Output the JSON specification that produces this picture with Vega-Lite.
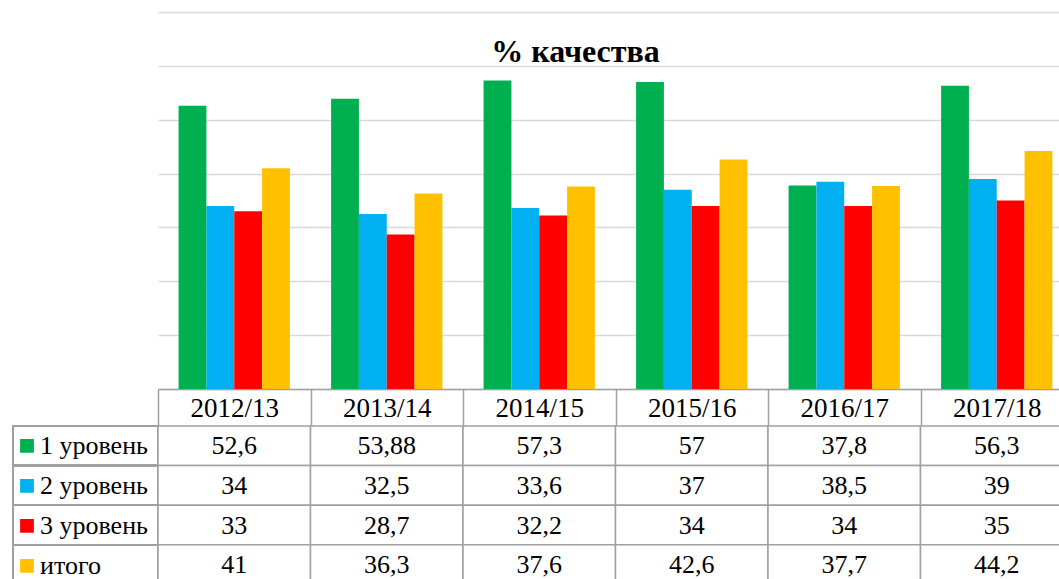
{
  "$schema": "https://vega.github.io/schema/vega-lite/v6.json",
  "padding": {"left": 12, "top": 12, "right": 0, "bottom": 0},
  "background": "white",
  "datasets": {
    "q": [
      {"year": "2012/13", "series": "1 уровень", "value": 52.6},
      {"year": "2012/13", "series": "2 уровень", "value": 34},
      {"year": "2012/13", "series": "3 уровень", "value": 33},
      {"year": "2012/13", "series": "итого", "value": 41},
      {"year": "2013/14", "series": "1 уровень", "value": 53.88},
      {"year": "2013/14", "series": "2 уровень", "value": 32.5},
      {"year": "2013/14", "series": "3 уровень", "value": 28.7},
      {"year": "2013/14", "series": "итого", "value": 36.3},
      {"year": "2014/15", "series": "1 уровень", "value": 57.3},
      {"year": "2014/15", "series": "2 уровень", "value": 33.6},
      {"year": "2014/15", "series": "3 уровень", "value": 32.2},
      {"year": "2014/15", "series": "итого", "value": 37.6},
      {"year": "2015/16", "series": "1 уровень", "value": 57},
      {"year": "2015/16", "series": "2 уровень", "value": 37},
      {"year": "2015/16", "series": "3 уровень", "value": 34},
      {"year": "2015/16", "series": "итого", "value": 42.6},
      {"year": "2016/17", "series": "1 уровень", "value": 37.8},
      {"year": "2016/17", "series": "2 уровень", "value": 38.5},
      {"year": "2016/17", "series": "3 уровень", "value": 34},
      {"year": "2016/17", "series": "итого", "value": 37.7},
      {"year": "2017/18", "series": "1 уровень", "value": 56.3},
      {"year": "2017/18", "series": "2 уровень", "value": 39},
      {"year": "2017/18", "series": "3 уровень", "value": 35},
      {"year": "2017/18", "series": "итого", "value": 44.2}
    ]
  },
  "columns": 2,
  "spacing": {"row": 37, "column": 0},
  "bounds": "flush",
  "align": "each",
  "config": {"view": {"stroke": null}, "font": "Liberation Serif"},
  "concat": [
    {
      "width": 145,
      "height": 377,
      "data": {"values": [{}]},
      "mark": {"type": "text"},
      "encoding": {"text": {"value": ""}}
    },
    {
      "width": 915,
      "height": 377,
      "data": {"name": "q"},
      "title": {"text": "% качества", "font": "Liberation Serif", "fontSize": 32, "fontWeight": "bold", "color": "black", "anchor": "middle", "offset": -82, "baseline": "alphabetic", "dx": -40},
      "mark": {"type": "bar"},
      "encoding": {
        "x": {
          "field": "year", "type": "nominal", "sort": null,
          "scale": {"paddingInner": 0, "paddingOuter": 0},
          "axis": {"title": null, "labelAngle": 0, "labelFont": "Liberation Serif", "labelFontSize": 27, "labelColor": "black", "labelBaseline": "alphabetic", "labelPadding": -10, "ticks": true, "tickBand": "extent", "tickSize": 37, "tickColor": "#a0a0a0", "tickWidth": 1.5, "domainColor": "#a0a0a0", "domainWidth": 1.5, "grid": false}
        },
        "xOffset": {
          "field": "series", "type": "nominal",
          "sort": ["1 уровень", "2 уровень", "3 уровень", "итого"],
          "scale": {"paddingInner": 0, "paddingOuter": 0.74}
        },
        "y": {
          "field": "value", "type": "quantitative",
          "scale": {"domain": [0, 70], "nice": false},
          "axis": {"title": null, "labels": false, "ticks": false, "domain": false, "grid": true, "gridColor": "#d9d9d9", "gridWidth": 1.3, "values": [0, 10, 20, 30, 40, 50, 60, 70], "minExtent": 0, "maxExtent": 0}
        },
        "color": {
          "field": "series", "type": "nominal",
          "scale": {"domain": ["1 уровень", "2 уровень", "3 уровень", "итого"], "range": ["#00B050", "#00B0F0", "#FF0000", "#FFC000"]},
          "legend": {"title": null, "orient": "none", "legendX": 1, "legendY": 414, "symbolType": "square", "symbolSize": 190, "symbolStrokeWidth": 0, "labelFont": "Liberation Serif", "labelFontSize": 26, "labelColor": "black", "labelOffset": 0, "clipHeight": 39.6, "rowPadding": 0, "padding": 0, "labelLimit": 200}
        }
      }
    },
    {
      "width": 145,
      "height": 158.4,
      "data": {"name": "q"},
      "mark": {"type": "rect", "fill": "white", "fillOpacity": 0, "stroke": "#a0a0a0", "strokeWidth": 1.5},
      "encoding": {
        "y": {"field": "series", "type": "nominal", "sort": ["1 уровень", "2 уровень", "3 уровень", "итого"], "scale": {"paddingInner": 0, "paddingOuter": 0}, "axis": null}
      }
    },
    {
      "width": 915,
      "height": 158.4,
      "data": {"name": "q"},
      "transform": [{"calculate": "replace(format(datum.value, '.2~f'), '.', ',')", "as": "label"}],
      "encoding": {
        "x": {"field": "year", "type": "nominal", "sort": null, "scale": {"paddingInner": 0, "paddingOuter": 0}, "axis": null},
        "y": {"field": "series", "type": "nominal", "sort": ["1 уровень", "2 уровень", "3 уровень", "итого"], "scale": {"paddingInner": 0, "paddingOuter": 0}, "axis": null}
      },
      "layer": [
        {"mark": {"type": "rect", "fill": "white", "stroke": "#a0a0a0", "strokeWidth": 1.5}},
        {"mark": {"type": "text", "font": "Liberation Serif", "fontSize": 26, "baseline": "alphabetic", "dy": 8.5, "color": "black"}, "encoding": {"text": {"field": "label"}}}
      ]
    }
  ]
}
